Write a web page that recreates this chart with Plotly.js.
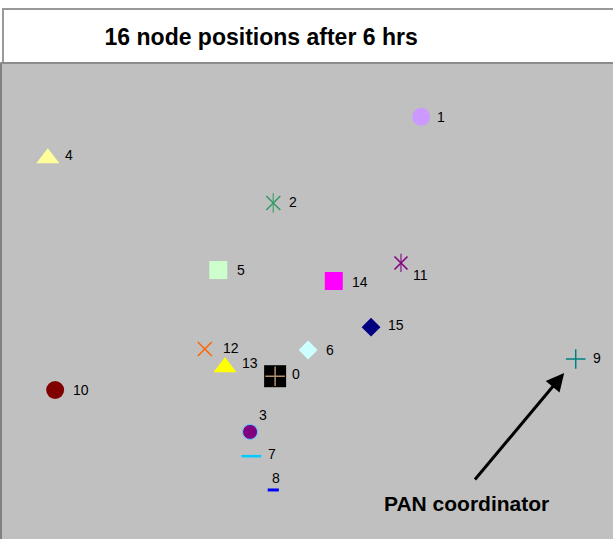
<!DOCTYPE html>
<html>
<head>
<meta charset="utf-8">
<script src="https://cdn.plot.ly/plotly-3.0.1.min.js"></script>
<style>
  html, body { margin: 0; padding: 0; background: #fff; }
  #nodeChart { width: 613px; height: 539px; }
</style>
</head>
<body>
<div id="nodeChart"></div>
<script>
// node ids and positions (field units, 0-100)
var nodeIds = [0, 1, 2, 3, 4, 5, 6, 7, 8, 9, 10, 11, 12, 13, 14, 15];
var posX = [44.7, 68.6, 44.4, 40.6, 7.5, 35.4, 50.1, 40.8, 44.4, 93.9, 8.7, 65.3, 33.2, 36.5, 54.3, 60.4];
var posY = [34.2, 88.7, 70.6, 22.5, 80.0, 56.5, 39.7, 17.4, 10.3, 37.8, 31.3, 58.0, 39.9, 36.1, 54.2, 44.5];
var coordinatorId = 9;

// marker styles, one per node
var nodeSymbols = ['square', 'circle', 'x-thin-open', 'circle', 'triangle-up', 'square', 'diamond', 'line-ew-open',
    'line-ew-open', 'cross-thin-open', 'circle', 'x-thin-open', 'x-thin-open', 'triangle-up', 'square', 'diamond'];
var nodeColors = ['#000000', '#cc99ff', '#339966', '#800080', '#ffff99', '#ccffcc', '#ccffff', '#00ccff',
    '#0000ff', '#008080', '#800000', '#800080', '#ff6600', '#ffff00', '#ff00ff', '#000080'];
var nodeSizes = [22, 18, 14, 15, 20, 18, 14.5, 14, 8, 14, 18, 13, 14, 20, 18, 14.5];
var lineColors = nodeColors.slice();
lineColors[3] = '#66ccff';
var lineWidths = [0, 0, 1.5, 1, 0, 0, 0, 2.5, 3, 1.5, 0, 1.5, 1.5, 0, 0, 0];

// extra strokes drawn on top of some markers
var overlayIdx = [0, 2, 11];
var overlaySymbols = ['cross-thin-open', 'line-ns-open', 'line-ns-open'];
var overlayColors = ['#ffcc99', '#339966', '#800080'];
var overlaySizes = [14, 14, 13];

// label offsets in pixels [right, down]
var labelShift = [[15, -2], [14, 0], [14, -1], [7, -17], [15, -3], [17, 0], [16, 0], [15, -2],
    [-3, -12], [15, -1], [16, 0], [10, 12], [16, -1], [15, -4], [16, 1], [15, -2]];

var mainTrace = {
    x: posX,
    y: posY,
    type: 'scatter',
    mode: 'markers',
    hoverinfo: 'none',
    marker: {
        symbol: nodeSymbols,
        color: nodeColors,
        size: nodeSizes,
        opacity: 1,
        line: { color: lineColors, width: lineWidths }
    }
};

var overlayTrace = {
    x: overlayIdx.map(i => posX[i]),
    y: overlayIdx.map(i => posY[i]),
    type: 'scatter',
    mode: 'markers',
    hoverinfo: 'none',
    marker: {
        symbol: overlaySymbols,
        color: overlayColors,
        size: overlaySizes,
        line: { color: overlayColors, width: 1.5 }
    }
};

var annotations = nodeIds.map(function(id, i) {
    return {
        x: posX[i], y: posY[i], xref: 'x', yref: 'y',
        text: String(id), showarrow: false,
        xanchor: 'left', yanchor: 'middle',
        xshift: labelShift[i][0], yshift: -labelShift[i][1],
        font: { family: 'Liberation Sans, Arial, sans-serif', size: 14, color: '#000' }
    };
});

annotations.push({
    x: posX[coordinatorId], y: posY[coordinatorId], xref: 'x', yref: 'y',
    text: '', showarrow: true,
    ax: -102, ay: 122,
    arrowhead: 2, arrowsize: 1.2, arrowwidth: 3, arrowcolor: '#000',
    standoff: 18
});
annotations.push({
    x: posX[coordinatorId], y: posY[coordinatorId], xref: 'x', yref: 'y',
    text: '<b>PAN coordinator</b>', showarrow: false,
    xanchor: 'center', yanchor: 'middle',
    xshift: -109, yshift: -144,
    font: { family: 'Liberation Sans, Arial, sans-serif', size: 21, color: '#000' }
});

var layout = {
    width: 613,
    height: 539,
    margin: { l: 2, r: 0, t: 63, b: 0 },
    paper_bgcolor: '#ffffff',
    plot_bgcolor: '#c0c0c0',
    showlegend: false,
    title: {
        text: '<b>16 node positions after 6 hrs</b>',
        font: { family: 'Liberation Sans, Arial, sans-serif', size: 23, color: '#000' },
        x: 0.426, xref: 'container', xanchor: 'center',
        y: 0.931, yref: 'container', yanchor: 'middle'
    },
    xaxis: { range: [0, 100], visible: false, fixedrange: true },
    yaxis: { range: [0, 100], visible: false, fixedrange: true },
    shapes: [
        // title box
        { type: 'rect', xref: 'paper', yref: 'paper', x0: 0.0016, x1: 1.02, y0: 1.0, y1: 1.1134,
          line: { color: '#999999', width: 2 }, fillcolor: 'rgba(0,0,0,0)' },
        // plot frame left and top
        { type: 'line', xref: 'paper', yref: 'paper', x0: -0.0016, x1: -0.0016, y0: 0, y1: 1.0,
          line: { color: '#808080', width: 2 } },
        { type: 'line', xref: 'paper', yref: 'paper', x0: -0.003, x1: 1.0, y0: 1.0, y1: 1.0,
          line: { color: '#8c8c8c', width: 2 } }
    ],
    annotations: annotations
};

Plotly.newPlot('nodeChart', [mainTrace, overlayTrace], layout, { displayModeBar: false, staticPlot: true });
</script>
</body>
</html>
